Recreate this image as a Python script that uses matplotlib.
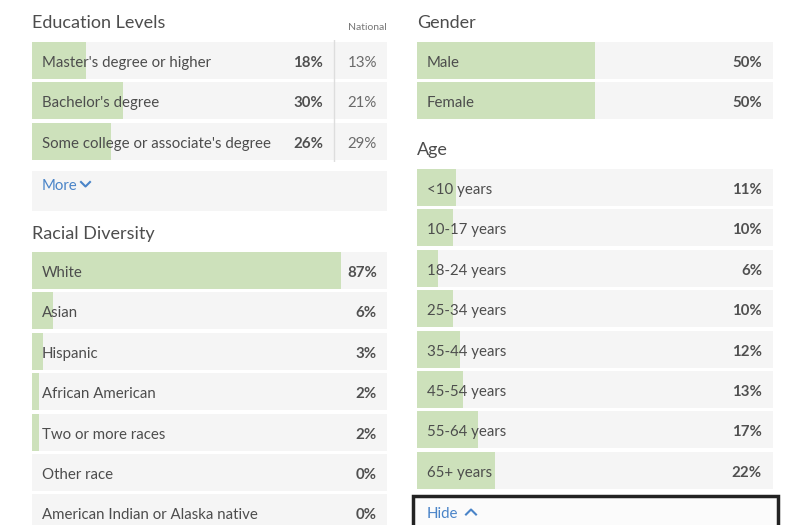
import matplotlib.pyplot as plt
from matplotlib.patches import Rectangle
from matplotlib.lines import Line2D

plt.rcParams['font.family'] = ['Lato', 'DejaVu Sans']

W, H = 797, 525

edu_labels = ["Master's degree or higher", "Bachelor's degree",
              "Some college or associate's degree"]
edu_values = [18, 30, 26]
edu_national = [13, 21, 29]

race_labels = ["White", "Asian", "Hispanic", "African American",
               "Two or more races", "Other race", "American Indian or Alaska native"]
race_values = [87, 6, 3, 2, 2, 0, 0]

gender_labels = ["Male", "Female"]
gender_values = [50, 50]

age_labels = ["<10 years", "10-17 years", "18-24 years", "25-34 years",
              "35-44 years", "45-54 years", "55-64 years", "65+ years"]
age_values = [11, 10, 6, 10, 12, 13, 17, 22]

GREEN = '#cde1bb'
ROW_BG = '#f5f5f5'
TEXT = '#4d4d4d'
BLUE = '#4a84c8'
PITCH = 40.4
ROW_H = 37
FS = 10.8

fig = plt.figure(figsize=(W / 100, H / 100), dpi=100)
fig.patch.set_facecolor('white')


def px_axes(x0, x1, first_top, n, bar_px=None):
    # axes in pixel coords, one unit per row; x axis in percent
    top = first_top - (PITCH - ROW_H) / 2
    ax = fig.add_axes([x0 / W, 1 - (top + n * PITCH) / H, (x1 - x0) / W, n * PITCH / H])
    bar_px = bar_px or (x1 - x0)
    ax.set_xlim(0, 100 * (x1 - x0) / bar_px)
    ax.set_ylim(n - 0.5, -0.5)
    ax.axis('off')
    return ax


def draw_rows(ax, labels, values, value_right_px=10):
    n = len(labels)
    rows = list(range(n))
    xmax = ax.get_xlim()[1]
    ax.barh(rows, [xmax] * n, height=ROW_H / PITCH, color=ROW_BG, zorder=1)
    ax.barh(rows, values, height=ROW_H / PITCH, color=GREEN, zorder=2)
    for i, (lab, v) in enumerate(zip(labels, values)):
        ax.annotate(lab, (0, i), xytext=(10, -1), textcoords='offset pixels',
                    va='center_baseline', ha='left', fontsize=FS, color=TEXT, zorder=3)
        ax.annotate(f"{v}%", (1, i), xycoords=('axes fraction', 'data'),
                    xytext=(-value_right_px, -1), textcoords='offset pixels',
                    va='center_baseline', ha='right', fontsize=FS, fontweight='bold',
                    color='#505050', zorder=3)


def title(x, y, s):
    fig.text(x / W, 1 - y / H, s, fontsize=13, color=TEXT, va='center_baseline', ha='left')


# Education levels
title(32, 22, "Education Levels")
fig.text(387 / W, 1 - 26 / H, "National", fontsize=7.5, color='#777777',
         va='center_baseline', ha='right')
ax_edu = px_axes(32, 387, 42, len(edu_labels), bar_px=302)
draw_rows(ax_edu, edu_labels, edu_values, value_right_px=64)
for i, v in enumerate(edu_national):
    ax_edu.annotate(f"{v}%", (1, i), xycoords=('axes fraction', 'data'),
                    xytext=(-10, -1), textcoords='offset pixels',
                    va='center_baseline', ha='right', fontsize=FS, color='#6a6a6a', zorder=3)
ax_edu.axvline(100, color='#dddddd', lw=1, zorder=4)

# More box
fig.add_artist(Rectangle((32 / W, 1 - 211 / H), 355 / W, 40 / H,
                         transform=fig.transFigure, color=ROW_BG, lw=0))
fig.text(42 / W, 1 - 184 / H, "More", fontsize=FS, color=BLUE,
         va='center_baseline', ha='left')
fig.add_artist(Line2D([81 / W, 85.5 / W, 90 / W], [1 - 182 / H, 1 - 186.5 / H, 1 - 182 / H],
                      transform=fig.transFigure, color=BLUE, lw=1.5))

# Racial diversity
title(32, 232, "Racial Diversity")
ax_race = px_axes(32, 387, 252, len(race_labels))
draw_rows(ax_race, race_labels, race_values)

# Gender
title(417, 22, "Gender")
ax_gender = px_axes(417, 773, 42, len(gender_labels))
draw_rows(ax_gender, gender_labels, gender_values, value_right_px=11)

# Age
title(417, 149, "Age")
ax_age = px_axes(417, 773, 169, len(age_labels))
draw_rows(ax_age, age_labels, age_values, value_right_px=11)

# Hide box
fig.add_artist(Rectangle((413 / W, 1 - 535 / H), 365 / W, 39 / H,
                         transform=fig.transFigure, facecolor='#fbfbfb',
                         edgecolor='#222222', lw=2.5))
fig.text(427 / W, 1 - 512 / H, "Hide", fontsize=FS, color=BLUE,
         va='center_baseline', ha='left')
fig.add_artist(Line2D([466 / W, 471 / W, 476 / W], [1 - 514.5 / H, 1 - 509.5 / H, 1 - 514.5 / H],
                      transform=fig.transFigure, color=BLUE, lw=1.5))

fig.savefig('out.png', dpi=100)
